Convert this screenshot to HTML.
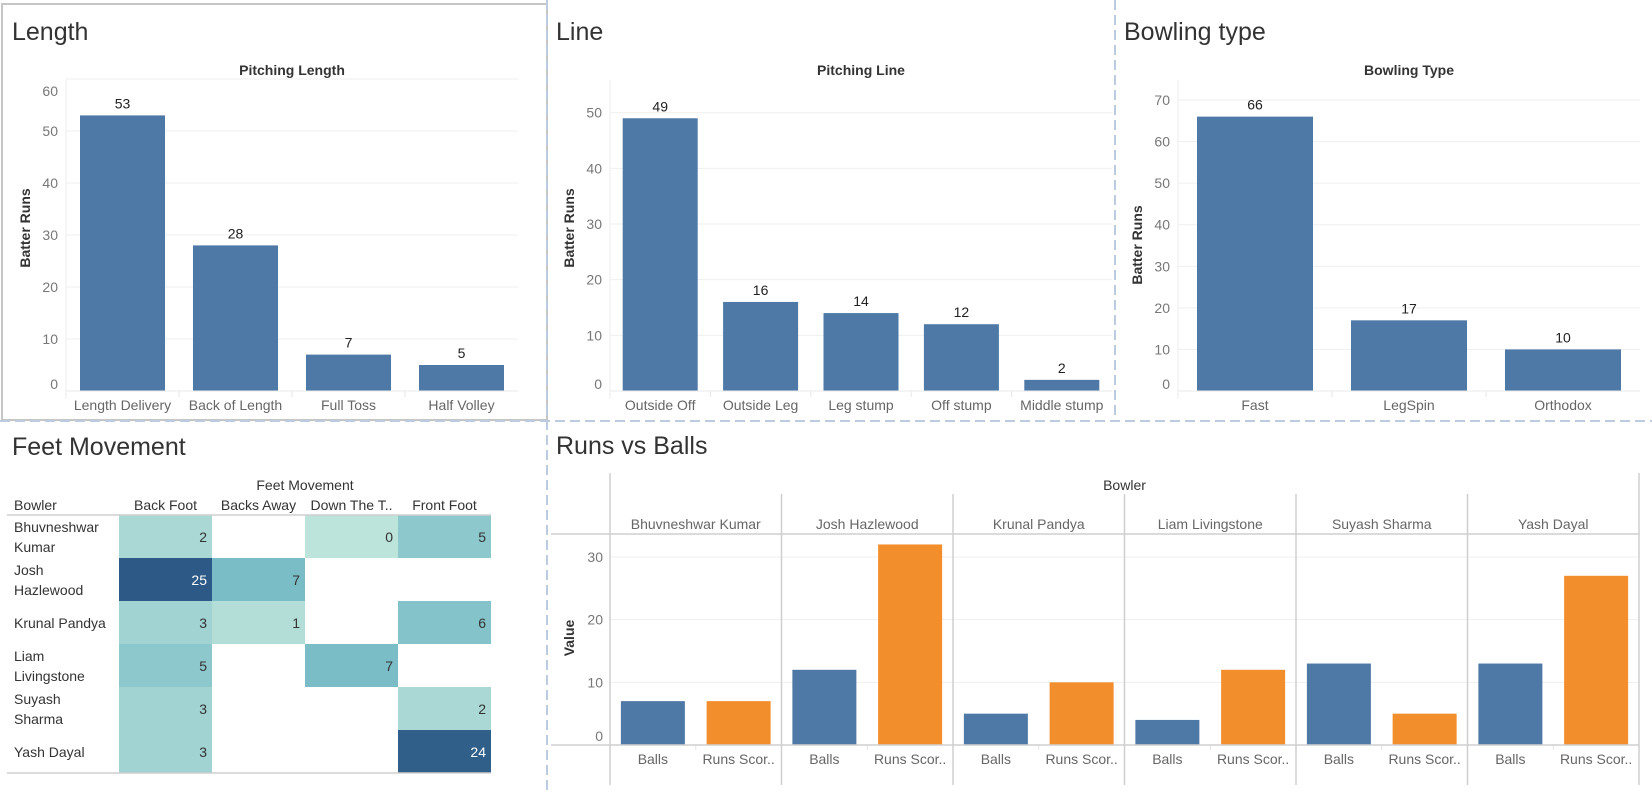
<!DOCTYPE html>
<html><head><meta charset="utf-8">
<style>
html,body{margin:0;padding:0;background:#fff;}
body{width:1652px;height:792px;overflow:hidden;font-family:"Liberation Sans",sans-serif;}
svg text{font-family:"Liberation Sans",sans-serif;}
</style></head>
<body>
<svg id="dash" width="1652" height="792" viewBox="0 0 1652 792" xmlns="http://www.w3.org/2000/svg">
  <g>
    <rect x="2" y="4" width="545" height="416" fill="none" stroke="#c6c6c6" stroke-width="2"/>
    <line x1="547" y1="0" x2="547" y2="792" stroke="#bccbe0" stroke-width="2" stroke-dasharray="10,5"/>
    <line x1="1115" y1="0" x2="1115" y2="420" stroke="#bccbe0" stroke-width="2" stroke-dasharray="10,5"/>
    <line x1="0" y1="421" x2="1652" y2="421" stroke="#bccbe0" stroke-width="2" stroke-dasharray="10,5"/>
  </g>
  <g id="charts"></g>
</svg>
<script>
// ---- Data ----
const lengthCats = ["Length Delivery","Back of Length","Full Toss","Half Volley"];
const lengthVals = [53,28,7,5];
const lengthTicks = [0,10,20,30,40,50,60];

const lineCats = ["Outside Off","Outside Leg","Leg stump","Off stump","Middle stump"];
const lineVals = [49,16,14,12,2];
const lineTicks = [0,10,20,30,40,50];

const bowlCats = ["Fast","LegSpin","Orthodox"];
const bowlVals = [66,17,10];
const bowlTicks = [0,10,20,30,40,50,60,70];

const feetRows = ["Bhuvneshwar|Kumar","Josh|Hazlewood","Krunal Pandya","Liam|Livingstone","Suyash|Sharma","Yash Dayal"];
const feetCols = ["Back Foot","Backs Away","Down The T..","Front Foot"];
const feetVals = [
  [2,null,0,5],
  [25,7,null,null],
  [3,1,null,6],
  [5,null,7,null],
  [3,null,null,2],
  [3,null,null,24]
];

const rvbBowlers = ["Bhuvneshwar Kumar","Josh Hazlewood","Krunal Pandya","Liam Livingstone","Suyash Sharma","Yash Dayal"];
const rvbMeasures = ["Balls","Runs Scor.."];
const rvbBalls = [7,12,5,4,13,13];
const rvbRuns = [7,32,10,12,5,27];
const rvbTicks = [0,10,20,30];

// ---- helpers ----
const NS="http://www.w3.org/2000/svg";
const root=document.getElementById('charts');
function mk(tag,attrs,parent,txt){const e=document.createElementNS(NS,tag);for(const k in attrs)e.setAttribute(k,attrs[k]);if(txt!==undefined)e.textContent=txt;(parent||root).appendChild(e);return e;}

function barChart(cfg){
  const g=mk('g',{});
  
  
  const t=mk('text',{x:cfg.titleX,y:40,'font-size':25,fill:'#333'},g,cfg.title);
  
  
  const st=mk('text',{x:(cfg.x0+cfg.x1)/2,y:75,'font-size':14,'font-weight':'bold',fill:'#333','text-anchor':'middle'},g,cfg.sub);
  
  
  const y0=391, yTop=cfg.yTop, maxT=cfg.ticks[cfg.ticks.length-1];
  const ys=v=>y0-(v/maxT)*(y0-yTop);
  mk('line',{x1:cfg.x0,y1:cfg.plotTop,x2:cfg.x0,y2:y0+8,stroke:'#eee'},g);
  cfg.ticks.forEach((tv,i)=>{
    const y=ys(tv);
    const gl=mk('line',{x1:cfg.x0,y1:y,x2:cfg.x1,y2:y,stroke:'#efefef','stroke-width':1},g);
    
    
    let ly=y+5; if(i===cfg.ticks.length-1 && cfg.clampTop) ly=y+17; if(i===0) ly=y-2;
    const tl=mk('text',{x:cfg.x0-8,y:ly,'font-size':14,fill:'#777','text-anchor':'end'},g,tv);
    
    
  });
  const yt=mk('text',{transform:`translate(${cfg.axX},${cfg.axY}) rotate(-90)`,'font-size':14,'font-weight':'bold',fill:'#333','text-anchor':'middle'},g,'Batter Runs');
  
  
  const band=(cfg.x1-cfg.x0)/cfg.cats.length;
  cfg.cats.forEach((c,i)=>{
    const cx=cfg.x0+band*(i+0.5), v=cfg.vals[i], y=ys(v);
    const r=mk('rect',{x:cx-cfg.bw/2,y:y,width:cfg.bw,height:y0-y,fill:'#4e79a7'},g);
    
    
    const vl=mk('text',{x:cx,y:y-7,'font-size':14,fill:'#222','text-anchor':'middle'},g,v);
    
    
    const xl=mk('text',{x:cx,y:410,'font-size':14,fill:'#666','text-anchor':'middle'},g,c);
    
    
    if(i>0){mk('line',{x1:cfg.x0+band*i,y1:y0,x2:cfg.x0+band*i,y2:y0+6,stroke:'#e6e6e6'},g);}
  });
  mk('line',{x1:cfg.x0,y1:y0,x2:cfg.x1,y2:y0,stroke:'#eaeaea'},g);
}

barChart({name:'length-chart',title:'Length',titleX:12,sub:'Pitching Length',x0:66,x1:518,yTop:79,plotTop:79,ticks:lengthTicks,cats:lengthCats,vals:lengthVals,bw:85,axX:30,axY:228,clampTop:true});
barChart({name:'line-chart',title:'Line',titleX:556,sub:'Pitching Line',x0:610,x1:1112,yTop:112.7,plotTop:80,ticks:lineTicks,cats:lineCats,vals:lineVals,bw:75,axX:574,axY:228});
barChart({name:'bowling-type-chart',title:'Bowling type',titleX:1124,sub:'Bowling Type',x0:1178,x1:1640,yTop:100,plotTop:80,ticks:bowlTicks,cats:bowlCats,vals:bowlVals,bw:116,axX:1142,axY:245});

// ---- Feet movement heatmap ----
(function(){
  const g=mk('g',{});
  
  
  const t=mk('text',{x:12,y:455,'font-size':25,fill:'#333'},g,'Feet Movement');
  
  
  const colX=[119,212,305,398,491], top=515, rh=43;
  mk('text',{x:305,y:490,'font-size':14,fill:'#333','text-anchor':'middle'},g,'Feet Movement');
  mk('text',{x:14,y:510,'font-size':14,fill:'#333'},g,'Bowler');
  feetCols.forEach((c,j)=>{
    const h=mk('text',{x:(colX[j]+colX[j+1])/2,y:510,'font-size':14,fill:'#333','text-anchor':'middle'},g,c);
    
    
  });
  function col(v){
    const stops=[[0,[189,228,218]],[7,[122,189,199]],[25,[44,89,133]]];
    let a=stops[0],b=stops[1];
    if(v>7){a=stops[1];b=stops[2];}
    const f=Math.max(0,Math.min(1,(v-a[0])/(b[0]-a[0])));
    const c=a[1].map((x,k)=>Math.round(x+(b[1][k]-x)*f));
    return `rgb(${c[0]},${c[1]},${c[2]})`;
  }
  feetRows.forEach((r,i)=>{
    const y=top+rh*i;
    const parts=r.split('|');
    parts.forEach((p,k)=>{
      const rl=mk('text',{x:14,y:parts.length>1? y+17+k*20 : y+27,'font-size':14,fill:'#333'},g,p);
      
      
    });
    feetCols.forEach((c,j)=>{
      const v=feetVals[i][j];
      if(v===null) return;
      const cell=mk('rect',{x:colX[j],y:y,width:colX[j+1]-colX[j],height:rh,fill:col(v)},g);
      
      
      const tx=mk('text',{x:colX[j+1]-5,y:y+27,'font-size':14,fill:v>15?'#fff':'#333','text-anchor':'end'},g,v);
      
      
    });
  });
  mk('line',{x1:7,y1:top,x2:491,y2:top,stroke:'#cfcfcf','stroke-width':1.5},g);
  mk('line',{x1:7,y1:top+rh*6,x2:491,y2:top+rh*6,stroke:'#cfcfcf','stroke-width':1.5},g);
})();

// ---- Runs vs Balls ----
(function(){
  const g=mk('g',{});
  
  
  const t=mk('text',{x:556,y:454,'font-size':25,fill:'#333'},g,'Runs vs Balls');
  
  
  const x0=610,x1=1639,y0=745,y30=557,pw=(x1-x0)/rvbBowlers.length;
  const ys=v=>y0-(v/30)*(y0-y30);
  const bh=mk('text',{x:(x0+x1)/2,y:490,'font-size':14,fill:'#333','text-anchor':'middle'},g,'Bowler');
  
  
  rvbTicks.forEach(tv=>{
    const y=ys(tv);
    mk('line',{x1:x0,y1:y,x2:x1,y2:y,stroke:'#efefef'},g);
    const tl=mk('text',{x:603,y:tv===0?y-4:y+5,'font-size':14,fill:'#777','text-anchor':'end'},g,tv);
    
    
  });
  const yt=mk('text',{transform:'translate(574,638) rotate(-90)','font-size':14,'font-weight':'bold',fill:'#333','text-anchor':'middle'},g,'Value');
  
  
  rvbBowlers.forEach((b,i)=>{
    const px=x0+pw*i, sb=pw/2;
    const nm=mk('text',{x:px+pw/2,y:529,'font-size':14,fill:'#666','text-anchor':'middle'},g,b);
    
    
    [rvbBalls[i],rvbRuns[i]].forEach((v,k)=>{
      const cx=px+sb*(k+0.5), y=ys(v);
      const r=mk('rect',{x:cx-32,y:y,width:64,height:y0-y,fill:k===0?'#4e79a7':'#f28e2b'},g);
      
      
      const xl=mk('text',{x:cx,y:764,'font-size':14,fill:'#666','text-anchor':'middle'},g,rvbMeasures[k]);
      
      
    });
    mk('line',{x1:px+sb,y1:y0,x2:px+sb,y2:y0+5,stroke:'#e3e3e3'},g);
  });
  for(let i=0;i<=rvbBowlers.length;i++){
    const x=x0+pw*i;
    mk('line',{x1:x,y1:i===0?473:494,x2:x,y2:785,stroke:'#cfcfcf','stroke-width':1.5},g);
  }
  mk('line',{x1:1639,y1:473,x2:1639,y2:494,stroke:'#cfcfcf','stroke-width':1.5},g);
  mk('line',{x1:551,y1:534,x2:x1,y2:534,stroke:'#cfcfcf','stroke-width':1.5},g);
  mk('line',{x1:551,y1:y0,x2:x1,y2:y0,stroke:'#cfcfcf','stroke-width':1.5},g);
})();
</script>
</body></html>
